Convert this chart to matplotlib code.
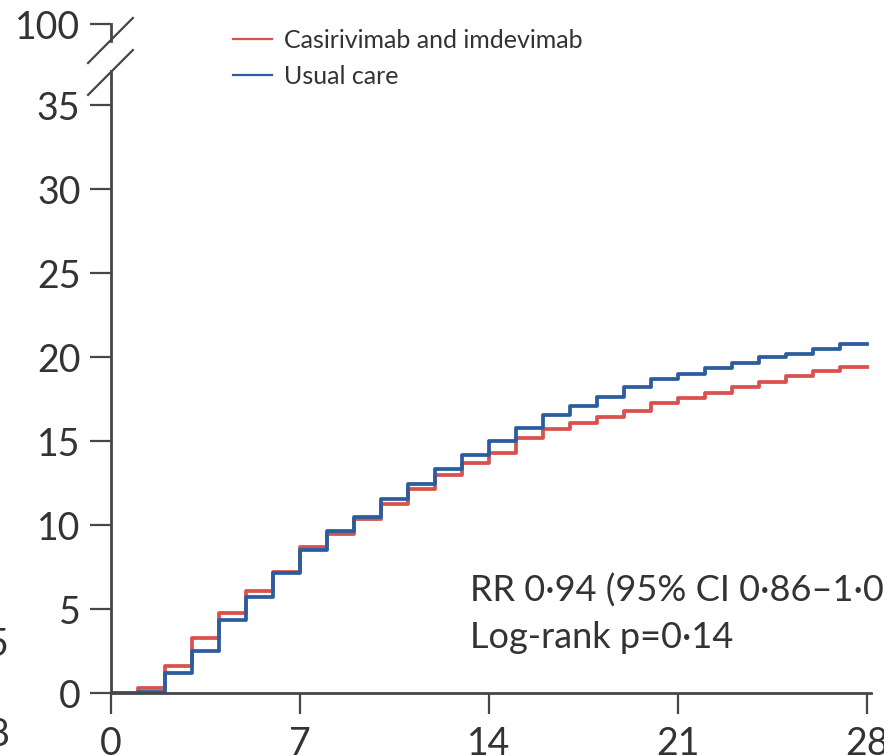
import matplotlib
matplotlib.use("Agg")
import matplotlib.pyplot as plt
from matplotlib.lines import Line2D

plt.rcParams['font.family'] = ['Lato', 'DejaVu Sans']

# days since randomisation and cumulative incidence (%)
days = list(range(0, 29))
casirivimab = [0, 0.3, 1.6, 3.25, 4.75, 6.1, 7.23, 8.7, 9.45, 10.35, 11.23, 12.14,
               12.98, 13.67, 14.3, 15.15, 15.7, 16.05, 16.4, 16.79, 17.28, 17.54,
               17.84, 18.2, 18.53, 18.87, 19.19, 19.42, 19.42]
usual_care = [0, 0.05, 1.17, 2.52, 4.35, 5.7, 7.17, 8.53, 9.64, 10.5, 11.55, 12.43,
              13.33, 14.17, 15.02, 15.8, 16.55, 17.1, 17.64, 18.23, 18.67, 18.99,
              19.33, 19.67, 19.99, 20.18, 20.48, 20.76, 20.76]

xticks = [0, 7, 14, 21, 28]
yticks = [0, 5, 10, 15, 20, 25, 30, 35]
top_tick = 39.8   # where the "100" label sits above the axis break

red = '#d9504c'
blue = '#2b5c9e'
axcol = '#464646'
txtcol = '#333333'

fig = plt.figure(figsize=(8.84, 7.55), dpi=100)
ax = fig.add_axes([111/884, 62/755, 760/884, 672/755])

ax.step(days, casirivimab, where='post', color=red, lw=2.7, label='Casirivimab and imdevimab')
ax.step(days, usual_care, where='post', color=blue, lw=2.7, label='Usual care')

ax.set_xlim(0, 28.15)
ax.set_ylim(0, 40)
ax.set_xticks(xticks)
ax.set_yticks(yticks + [top_tick])
ax.set_yticklabels([str(v) for v in yticks] + ['100'])

for s in ['top', 'right']:
    ax.spines[s].set_visible(False)
for s in ['left', 'bottom']:
    ax.spines[s].set_color(axcol)
    ax.spines[s].set_linewidth(2)
ax.spines['left'].set_bounds(0, 37.0)

ax.tick_params(axis='both', length=15, width=1.6, color=axcol, labelsize=27,
               labelcolor=txtcol, pad=7)
ax.tick_params(axis='x', pad=9)

# upper piece of the broken axis and the break marks
ax.plot([0, 0], [38.8, top_tick], color=axcol, lw=2, clip_on=False)
ax.plot([-0.85, 0.81], [37.5, 40.18], color=axcol, lw=1.6, clip_on=False)
ax.plot([-0.85, 0.81], [35.6, 38.27], color=axcol, lw=1.6, clip_on=False)

handles = [Line2D([], [], color=red, lw=1.6), Line2D([], [], color=blue, lw=1.6)]
ax.legend(handles, ['Casirivimab and imdevimab', 'Usual care'], frameon=False,
          loc='upper left', bbox_to_anchor=(233/884, 1 - 29/755),
          bbox_transform=fig.transFigure, fontsize=18, handlelength=1.55,
          handletextpad=0.5, labelspacing=0.5, borderaxespad=0, borderpad=0,
          labelcolor=txtcol)

ax.text(470/884, 1 - 602/755, 'RR 0\u00b794 (95% CI 0\u00b786\u20131\u00b703)',
        transform=fig.transFigure, fontsize=26, color=txtcol, va='baseline')
ax.text(470/884, 1 - 648/755, 'Log-rank p=0\u00b714',
        transform=fig.transFigure, fontsize=26, color=txtcol, va='baseline')

# fragments of the neighbouring panel at the left edge
fig.text(9/884, 1 - 645/755, '5', fontsize=27, color=txtcol, ha='right', va='center')
fig.text(9/884, 1 - 735/755, '8', fontsize=27, color=txtcol, ha='right', va='center')

fig.savefig('out.png', dpi=100)
